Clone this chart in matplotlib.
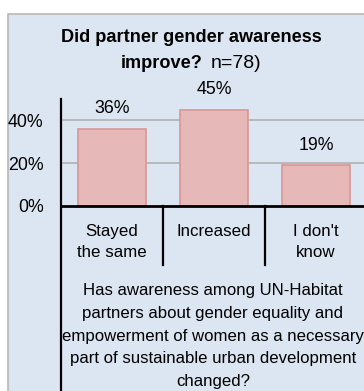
import matplotlib
matplotlib.use("Agg")
import matplotlib.pyplot as plt
from matplotlib.patches import Rectangle
from matplotlib.lines import Line2D
import matplotlib.transforms as mtransforms

categories = ["Stayed\nthe same", "Increased", "I don't\nknow"]
values = [0.36, 0.45, 0.19]
value_labels = ["36%", "45%", "19%"]
yticks = [0.0, 0.2, 0.4]
ytick_labels = ["0%", "20%", "40%"]
title_line1 = "Did partner gender awareness"
title_bold2 = "improve?"
title_norm2 = "n=78)"
axis_title = ("Has awareness among UN-Habitat\npartners about gender equality and\n"
              "empowerment of women as a necessary\npart of sustainable urban development\nchanged?")

plt.rcParams['font.family'] = ['Liberation Sans', 'DejaVu Sans']

W, H = 364, 391
fig = plt.figure(figsize=(W / 100, H / 100), dpi=100)
fig.patch.set_facecolor("white")

def fx(px):
    return px / W

def fy(py):
    return 1 - py / H

bg = "#DCE6F2"
fig.patches.append(Rectangle((fx(7.5), -0.05), 1.2, fy(13.5) + 0.05, transform=fig.transFigure,
                             facecolor=bg, edgecolor="#B7B7B7", linewidth=1.2, zorder=-5))

ax = fig.add_axes([fx(61), fy(206), fx(367) - fx(61), fy(99) - fy(206)])
ax.set_zorder(2)
ax.set_facecolor("none")
x = list(range(len(categories)))
ax.bar(x, values, width=0.67, color="#E6B9B8", edgecolor="#D99694", linewidth=1.2, zorder=3)
ax.set_xlim(-0.5, 2.5)
ax.set_ylim(0, 0.5)
ax.set_yticks(yticks)
ax.set_yticklabels(ytick_labels, fontsize=12.8)
ax.tick_params(axis="y", length=0, pad=12.5)
ax.set_xticks([])
for s in ["top", "right", "left"]:
    ax.spines[s].set_visible(False)
ax.spines["bottom"].set_linewidth(2)
ax.spines["bottom"].set_color("black")
ax.spines["bottom"].set_zorder(5)
for yv in yticks[1:]:
    ax.axhline(yv, color="#B0B0B0", linewidth=1.2, zorder=1)

for xi, v, lab in zip(x, values, value_labels):
    ax.annotate(lab, (xi, v), xytext=(0, 14.4), textcoords="offset points",
                ha="center", va="center", fontsize=12.8)

# vertical axis line extending to bottom
fig.lines.append(Line2D([fx(61), fx(61)], [-0.01, fy(99)], transform=fig.transFigure,
                        color="black", linewidth=1.6, zorder=6))

# category separators
trans = mtransforms.blended_transform_factory(ax.transData, ax.transAxes)
sep_bottom = -(265 - 206) / (206 - 99)
for b in [0.5, 1.5]:
    ax.plot([b, b], [0, sep_bottom], transform=trans, color="black", linewidth=1.6,
            clip_on=False, zorder=6)

# category labels
lab_top = -(224 - 206) / (206 - 99)
for xi, c in zip(x, categories):
    ax.text(xi, lab_top, c, transform=trans, ha="center", va="top", fontsize=12.2,
            linespacing=1.5)

fig.text(fx(213), fy(336), axis_title, ha="center", va="center", fontsize=12.1,
         linespacing=1.65)

fig.text(fx(191), fy(38), title_line1, ha="center", va="center", fontsize=13.1,
         fontweight="bold")
fig.text(fx(203), fy(63), title_bold2, ha="right", va="center", fontsize=13.1,
         fontweight="bold")
fig.text(fx(211), fy(63), title_norm2, ha="left", va="center", fontsize=14)

fig.savefig("out.png", dpi=100)
